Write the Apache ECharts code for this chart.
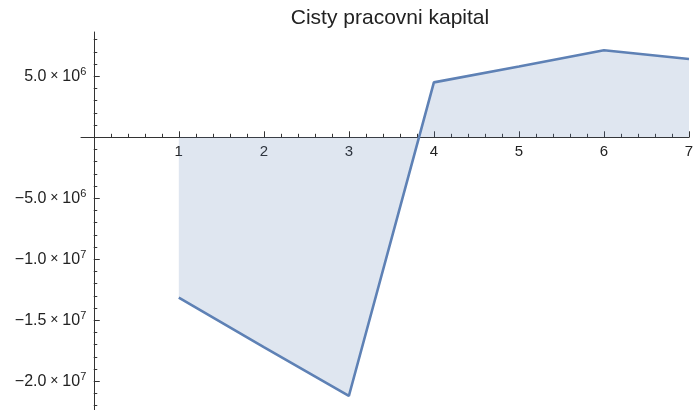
<!DOCTYPE html>
<html>
<head>
<meta charset="utf-8">
<script src="https://cdn.jsdelivr.net/npm/echarts@6/dist/echarts.min.js"></script>
<style>
  html, body { margin: 0; padding: 0; background: #fff; }
</style>
</head>
<body>
<div id="chart" style="width:696px;height:410px"></div>
<script>
  // data
  const years = [1, 2, 3, 4, 5, 6, 7];
  const kapital = [-13150000, -17200000, -21200000, 4500000, 5800000, 7130000, 6420000];
  const xTicks = [1, 2, 3, 4, 5, 6, 7];
  const yTicks = [-20000000, -15000000, -10000000, -5000000, 5000000];
  const yMinor = [-22, -21, -19, -18, -17, -16, -14, -13, -12, -11, -9, -8, -7, -6, -4, -3, -2, -1,
                  1, 2, 3, 4, 6, 7, 8].map(v => v * 1e6);
  const xMinor = [0.2, 0.4, 0.6, 0.8, 1.2, 1.4, 1.6, 1.8, 2.2, 2.4, 2.6, 2.8, 3.2, 3.4, 3.6, 3.8,
                  4.2, 4.4, 4.6, 4.8, 5.2, 5.4, 5.6, 5.8, 6.2, 6.4, 6.6, 6.8];

  const xMin = -0.15, xMax = 7;
  const yMin = -22350000, yMax = 8630000;

  const W = 696, H = 410;
  const gLeft = 81, gRight = 7, gTop = 32, gBottom = 0;
  // labels of an onZero axis stay at the grid edge, so shift them to the zero lines
  const xZeroPx = (W - gLeft - gRight) * (0 - xMin) / (xMax - xMin);
  const yZeroPx = (H - gTop - gBottom) * (0 - yMin) / (yMax - yMin);

  const axisColor = '#333';
  const txtColor = '#222';
  const font = 'Liberation Sans';

  function sciLabel(v) {
    const sign = v < 0 ? '\u2212' : '';
    const a = Math.abs(v);
    const exp = Math.floor(Math.log10(a));
    const mant = (a / Math.pow(10, exp)).toFixed(1);
    return '{b|' + sign + mant + '}{x| \u00d7 }{b|10}{s|' + exp + '}';
  }

  const myChart = echarts.init(document.getElementById('chart'));
  const option = {
    backgroundColor: '#fff',
    animation: false,
    title: {
      text: 'Cisty pracovni kapital',
      left: 385,
      textAlign: 'center',
      top: 3,
      textStyle: { fontFamily: font, fontSize: 21, fontWeight: 'normal', color: txtColor }
    },
    grid: { left: gLeft, right: gRight, top: gTop, bottom: gBottom, containLabel: false, outerBoundsMode: 'none' },
    xAxis: [{
      type: 'value',
      min: xMin,
      max: xMax,
      position: 'bottom',
      splitLine: { show: false },
      axisLine: { onZero: true, lineStyle: { color: axisColor, width: 1 } },
      axisTick: { show: true, inside: true, length: 6, customValues: xTicks, lineStyle: { color: axisColor } },
      axisLabel: { customValues: xTicks, margin: 7 - yZeroPx, color: txtColor, fontFamily: font, fontSize: 15 }
    }, {
      type: 'value',
      min: xMin,
      max: xMax,
      position: 'bottom',
      splitLine: { show: false },
      axisLine: { show: false, onZero: true },
      axisTick: { show: true, inside: true, length: 3.5, customValues: xMinor, lineStyle: { color: axisColor } },
      axisLabel: { show: false }
    }],
    yAxis: [{
      type: 'value',
      min: yMin,
      max: yMax,
      position: 'left',
      splitLine: { show: false },
      axisLine: { onZero: true, lineStyle: { color: axisColor, width: 1 } },
      axisTick: { show: true, inside: true, length: 6, customValues: yTicks, lineStyle: { color: axisColor } },
      axisLabel: {
        customValues: yTicks,
        margin: 7.5 - xZeroPx,
        formatter: sciLabel,
        rich: {
          b: { fontFamily: font, fontSize: 16, color: txtColor },
          x: { fontFamily: font, fontSize: 14, color: txtColor },
          s: { fontFamily: font, fontSize: 11, color: txtColor, padding: [0, 0, 9, 0] }
        }
      }
    }, {
      type: 'value',
      min: yMin,
      max: yMax,
      position: 'left',
      splitLine: { show: false },
      axisLine: { show: false, onZero: true },
      axisTick: { show: true, inside: true, length: 3.5, customValues: yMinor, lineStyle: { color: axisColor } },
      axisLabel: { show: false }
    }],
    series: [{
      name: 'Cisty pracovni kapital',
      type: 'line',
      xAxisIndex: 0,
      yAxisIndex: 0,
      symbol: 'none',
      data: years.map((x, i) => [x, kapital[i]]),
      lineStyle: { color: '#5E81B5', width: 2.6 },
      areaStyle: { color: '#5E81B5', opacity: 0.2, origin: 0 }
    }]
  };
  myChart.setOption(option);
  window.addEventListener('resize', () => { myChart.resize(); });
</script>
</body>
</html>
